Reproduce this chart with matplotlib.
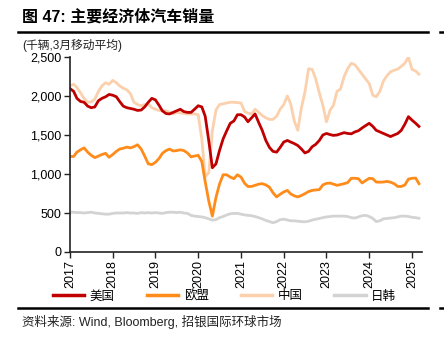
import matplotlib
matplotlib.use("Agg")
import matplotlib.pyplot as plt
from matplotlib.lines import Line2D
from matplotlib.ticker import FuncFormatter
import pandas as pd
import datetime as dt

plt.rcParams['font.family'] = ['Liberation Sans', 'Noto Sans CJK SC', 'DejaVu Sans']

dates = pd.date_range("2017-01-01", periods=99, freq="MS")

us = [2095, 2060, 1970, 1930, 1920, 1870, 1850, 1860, 1940, 1970, 1990, 2020,
      2010, 1990, 1930, 1870, 1850, 1840, 1830, 1815, 1820, 1860, 1920, 1970,
      1950, 1880, 1810, 1775, 1770, 1790, 1810, 1830, 1800, 1790, 1790, 1830,
      1875, 1860, 1740, 1420, 1080, 1130, 1300, 1450, 1555, 1650, 1680, 1760,
      1760, 1730, 1670, 1720, 1770, 1660, 1560, 1430, 1340, 1290, 1280, 1340,
      1410, 1430, 1410, 1390, 1365, 1320, 1270, 1290, 1350, 1380, 1430, 1500,
      1520, 1505, 1495, 1500, 1515, 1530, 1520, 1515, 1540, 1555, 1590, 1620,
      1650, 1610, 1560, 1540, 1520, 1500, 1480, 1500, 1520, 1560, 1640, 1735,
      1690, 1650, 1610]

eu = [1225, 1225, 1280, 1310, 1335, 1280, 1240, 1210, 1230, 1250, 1265, 1215,
      1250, 1290, 1320, 1330, 1345, 1335, 1350, 1375, 1320, 1230, 1130, 1120,
      1150, 1200, 1265, 1300, 1320, 1295, 1300, 1310, 1300, 1270, 1220, 1230,
      1240, 1160, 900, 650, 460, 700, 870, 990, 990, 960, 940, 990,
      960, 880, 840, 840, 855, 870, 876, 860, 830, 760, 706, 740,
      770, 790, 745, 720, 706, 725, 748, 775, 790, 795, 800, 860,
      880, 884, 870, 855, 865, 876, 890, 945, 945, 940, 885, 915,
      945, 940, 897, 895, 897, 905, 895, 876, 840, 840, 860, 935,
      945, 948, 876]

china = [2130, 2150, 2110, 2040, 1970, 1920, 1925, 1960, 2060, 2130, 2170, 2150,
         2200, 2170, 2130, 2100, 2080, 2030, 1920, 1890, 1875, 1890, 1895, 1850,
         1830, 1815, 1810, 1810, 1790, 1770, 1790, 1785, 1775, 1770, 1770, 1770,
         1760, 1450, 960, 1020, 1550, 1820, 1890, 1900, 1910, 1920, 1920, 1915,
         1910, 1800, 1780, 1770, 1830, 1790, 1750, 1720, 1700, 1700, 1740, 1830,
         1890, 2000, 1900, 1680, 1560, 1850, 2050, 2350, 2340, 2220, 2040, 1880,
         1670, 1820, 1880, 2060, 2090, 2250, 2350, 2420, 2400, 2340, 2280, 2220,
         2160, 2010, 1990, 2060, 2190, 2260, 2310, 2330, 2345, 2380, 2420, 2500,
         2340, 2320, 2280]

jpkr = [510, 510, 505, 505, 500, 505, 510, 500, 495, 490, 485, 485,
        495, 500, 500, 500, 505, 500, 500, 495, 505, 500, 505, 500,
        505, 500, 495, 505, 510, 510, 505, 510, 500, 495, 470, 460,
        455, 450, 440, 425, 408, 415, 440, 455, 475, 490, 495, 495,
        485, 475, 470, 465, 455, 440, 425, 405, 390, 375, 390, 415,
        420, 410, 400, 400, 395, 390, 387, 395, 410, 420, 430, 440,
        450, 455, 460, 460, 460, 460, 455, 440, 435, 450, 465, 470,
        455, 430, 390, 400, 425, 430, 435, 440, 450, 460, 460, 455,
        445, 440, 433]

series_names = ["美国", "欧盟", "中国", "日韩"]
series_colors = ["#C00000", "#FF8C1A", "#FBD0AD", "#D3D3D3"]
years = list(range(2017, 2026))
yticks = [0, 500, 1000, 1500, 2000, 2500]

fig = plt.figure(figsize=(4.44, 3.42), dpi=100)
ax = fig.add_axes([70/444, 1-252/342, (422-70)/444, (252-57)/342])

order = [3, 2, 1, 0]
data = [us, eu, china, jpkr]
for i in order:
    ax.plot(dates, data[i], color=series_colors[i], lw=2.0, solid_joinstyle='round')

ax.set_ylim(0, 2500)
ax.set_yticks(yticks)
ax.yaxis.set_major_formatter(FuncFormatter(lambda v, p: f"{int(v):,}"))
ax.set_xlim(dt.date(2017, 1, 1), dt.date(2025, 3, 27))
ax.set_xticks([dt.date(y, 1, 1) for y in years])
ax.set_xticklabels([str(y) for y in years], rotation=90)
for s in ["top", "right"]:
    ax.spines[s].set_visible(False)
for s in ["left", "bottom"]:
    ax.spines[s].set_linewidth(1.2)
    ax.spines[s].set_color("#222222")
ax.tick_params(axis='both', labelsize=9, length=4, width=1.0, color="#222222",
               direction='out', pad=2)

# title
fig.text(22/444, 1-17/342, "图 47: 主要经济体汽车销量", fontsize=11.5, fontweight='bold',
         family=['Liberation Sans', 'Noto Sans CJK SC'], va='center', ha='left')
fig.add_artist(Line2D([18/444, 428/444], [1-32/342, 1-32/342], color='black', lw=1.8))
fig.add_artist(Line2D([440/444, 444/444], [1-32/342, 1-32/342], color='black', lw=1.8))
fig.text(22/444, 1-45/342, "(千辆,3月移动平均)", fontsize=8.5, va='center', ha='left',
         family=['Liberation Sans', 'Noto Sans CJK SC'], color='#222222')

# legend
handles = [Line2D([0], [0], color=series_colors[i], lw=2.5) for i in range(4)]
fig.legend(handles, series_names, loc='center left', bbox_to_anchor=(53/444, 1-296/342),
           ncol=4, frameon=False, handlelength=2.5, handletextpad=0.45,
           columnspacing=2.55, borderaxespad=0, borderpad=0,
           prop={'family': ['Noto Sans CJK SC'], 'size': 9})

fig.add_artist(Line2D([18/444, 428/444], [1-308/342, 1-308/342], color='black', lw=1.8))
fig.add_artist(Line2D([440/444, 444/444], [1-308/342, 1-308/342], color='black', lw=1.8))
fig.text(22/444, 1-322/342, "资料来源: Wind, Bloomberg, 招银国际环球市场", fontsize=9,
         va='center', ha='left', family=['Liberation Sans', 'Noto Sans CJK SC'], color='#222222')

fig.savefig("out.png", dpi=100)
